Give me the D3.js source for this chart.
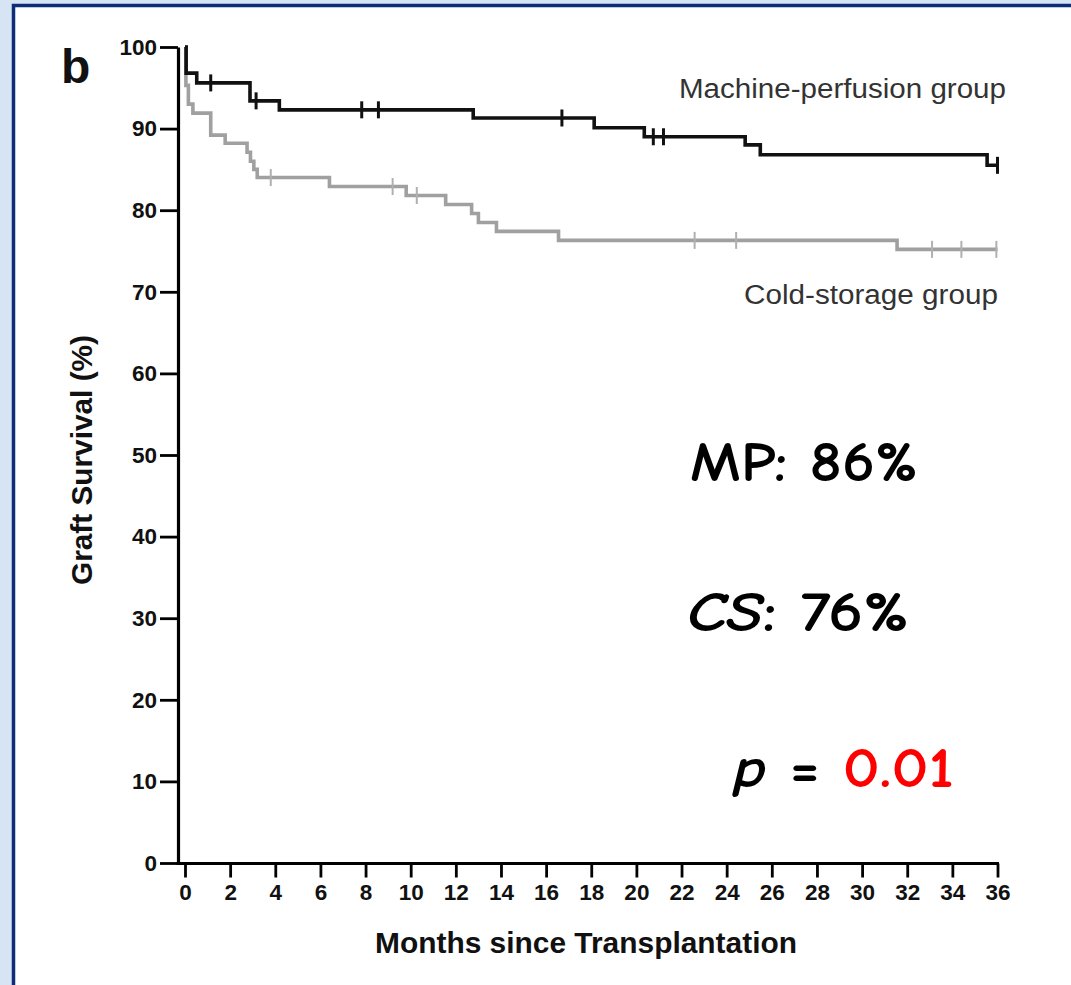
<!DOCTYPE html>
<html>
<head>
<meta charset="utf-8">
<script src="https://cdn.jsdelivr.net/npm/d3@7"></script>
<style>
  html, body { margin: 0; padding: 0; background: #d6e4f3; overflow: hidden; }
  svg { display: block; }
</style>
</head>
<body>
<div id="chart"></div>
<script>
// -------- DATA --------

// Machine-perfusion group: step start (months) and survival (%) from there on
const mpTime = [0, 0.05, 0.52, 2.88, 4.18, 12.77, 18.13, 20.35, 24.82, 25.49, 35.54];
const mpSurv = [100, 96.8, 95.6, 93.4, 92.3, 91.3, 90.1, 89.0, 88.0, 86.8, 85.5];
const mpCensor = [1.14, 3.15, 7.83, 8.57, 16.7, 20.75, 21.2, 36];

// Cold-storage group
const csTime = [0, 0.04, 0.15, 0.35, 1.14, 1.78, 2.75, 2.9, 3.05, 3.2, 6.4, 9.8, 11.55, 12.7, 13.0, 13.8, 16.55, 31.55];
const csSurv = [100, 95.3, 93.0, 91.9, 89.2, 88.2, 87.1, 86.0, 85.0, 84.0, 82.9, 81.8, 80.7, 79.6, 78.5, 77.4, 76.3, 75.2];
const csCensor = [3.8, 9.2, 10.27, 22.58, 24.42, 33.1, 34.4, 35.95];

const xTickValues = [0, 2, 4, 6, 8, 10, 12, 14, 16, 18, 20, 22, 24, 26, 28, 30, 32, 34, 36];
const yTickValues = [0, 10, 20, 30, 40, 50, 60, 70, 80, 90, 100];
const groupLabels = ["Machine-perfusion group", "Cold-storage group"];
const summaryLabels = [["MP", ": 86%"], ["CS", ": 76%"]];
const pValue = "0.01";

// -------- LAYOUT --------
const width = 1071, height = 985;
const font = "'Liberation Sans', Arial, Helvetica, sans-serif";
const comic = "'Comic Sans MS', 'Comic Neue', 'DejaVu Sans', sans-serif";

const svg = d3.select("#chart").append("svg")
  .attr("width", width)
  .attr("height", height);

// blue frame + white panel
svg.append("rect")
  .attr("x", 13.5).attr("y", 5.5)
  .attr("width", width + 20).attr("height", height + 20)
  .attr("fill", "#ffffff")
  .attr("stroke", "#0d2d78")
  .attr("stroke-width", 3.5);

const x = d3.scaleLinear().domain([0, 36]).range([185, 997.5]);
const y = d3.scaleLinear().domain([0, 100]).range([863, 47]);

// -------- AXES --------
const yAxisG = svg.append("g")
  .attr("transform", "translate(178,0)")
  .call(d3.axisLeft(y).tickValues(yTickValues).tickSize(18).tickPadding(3).tickSizeOuter(0));

const xAxisG = svg.append("g")
  .attr("transform", "translate(0,863.5)")
  .call(d3.axisBottom(x).tickValues(xTickValues).tickSize(14).tickPadding(7).tickSizeOuter(0));

// x-Achse beginnt schon an der y-Achse
xAxisG.select(".domain").attr("d", `M176.5,0H${x(36) + 1.5}`);

[xAxisG, yAxisG].forEach(g => {
  g.select(".domain").attr("stroke", "#000").attr("stroke-width", 3.2);
  g.selectAll(".tick line").attr("stroke", "#000").attr("stroke-width", 2.8);
  g.selectAll(".tick text")
    .attr("fill", "#111")
    .style("font-family", font)
    .style("font-weight", "bold")
    .style("font-size", "22.5px");
});

// axis titles
svg.append("text")
  .attr("x", 586).attr("y", 953)
  .attr("text-anchor", "middle")
  .attr("textLength", 422).attr("lengthAdjust", "spacingAndGlyphs")
  .style("font-family", font).style("font-weight", "bold").style("font-size", "29.5px")
  .attr("fill", "#111")
  .text("Months since Transplantation");

svg.append("text")
  .attr("transform", "translate(92,460) rotate(-90)")
  .attr("text-anchor", "middle")
  .attr("textLength", 250).attr("lengthAdjust", "spacingAndGlyphs")
  .style("font-family", font).style("font-weight", "bold").style("font-size", "29.5px")
  .attr("fill", "#111")
  .text("Graft Survival (%)");

// panel letter
svg.append("text")
  .attr("x", 61).attr("y", 83)
  .style("font-family", font).style("font-weight", "bold").style("font-size", "48px")
  .attr("fill", "#111")
  .text("b");

// -------- CURVES --------
const stepLine = d3.line()
  .x(d => x(d[0]))
  .y(d => y(d[1]))
  .curve(d3.curveStepAfter);

const survAt = (times, surv, t) => surv[Math.max(0, d3.bisectRight(times, t) - 1)];

const series = [
  { time: csTime, surv: csSurv, censor: csCensor, color: "#a0a0a0", tickColor: "#b0b0b0", tickW: 2, tickH: 8.5 },
  { time: mpTime, surv: mpSurv, censor: mpCensor, color: "#111111", tickColor: "#111111", tickW: 3, tickH: 8.5 }
];

series.forEach(s => {
  const pts = s.time.map((t, i) => [t, s.surv[i]]);
  pts.push([36, s.surv[s.surv.length - 1]]);

  svg.append("path")
    .datum(pts)
    .attr("fill", "none")
    .attr("stroke", s.color)
    .attr("stroke-width", 3.6)
    .attr("d", stepLine);

  svg.append("g").selectAll("line")
    .data(s.censor)
    .join("line")
      .attr("x1", d => x(d)).attr("x2", d => x(d))
      .attr("y1", d => y(survAt(s.time, s.surv, d)) - s.tickH)
      .attr("y2", d => y(survAt(s.time, s.surv, d)) + s.tickH)
      .attr("stroke", s.tickColor)
      .attr("stroke-width", s.tickW);
});

// group labels
svg.append("text")
  .attr("x", 679).attr("y", 98)
  .attr("textLength", 327).attr("lengthAdjust", "spacingAndGlyphs")
  .style("font-family", font).style("font-size", "27px")
  .attr("fill", "#333")
  .text(groupLabels[0]);

svg.append("text")
  .attr("x", 744).attr("y", 304)
  .attr("textLength", 254).attr("lengthAdjust", "spacingAndGlyphs")
  .style("font-family", font).style("font-size", "27px")
  .attr("fill", "#333")
  .text(groupLabels[1]);

// -------- ANNOTATIONS --------
const summaryPos = [{ x: 690, y: 481, len: 228 }, { x: 687, y: 631, len: 222 }];
summaryLabels.forEach((lab, i) => {
  const t = svg.append("text")
    .attr("x", summaryPos[i].x).attr("y", summaryPos[i].y)
    .attr("textLength", summaryPos[i].len).attr("lengthAdjust", "spacingAndGlyphs")
    .style("font-family", comic).style("font-weight", "bold").style("font-size", "56px")
    .attr("fill", "#000");
  t.append("tspan").style("font-style", i === 1 ? "italic" : "normal").text(lab[0]);
  t.append("tspan").text(lab[1]);
});

const pText = svg.append("text")
  .attr("x", 733).attr("y", 787)
  .attr("textLength", 221).attr("lengthAdjust", "spacingAndGlyphs")
  .style("font-family", comic).style("font-weight", "bold").style("font-size", "56px")
  .attr("fill", "#000");
pText.append("tspan").style("font-style", "italic").text("p");
pText.append("tspan").text(" = ");
pText.append("tspan").attr("fill", "#ff0000").text(pValue);
</script>
</body>
</html>
